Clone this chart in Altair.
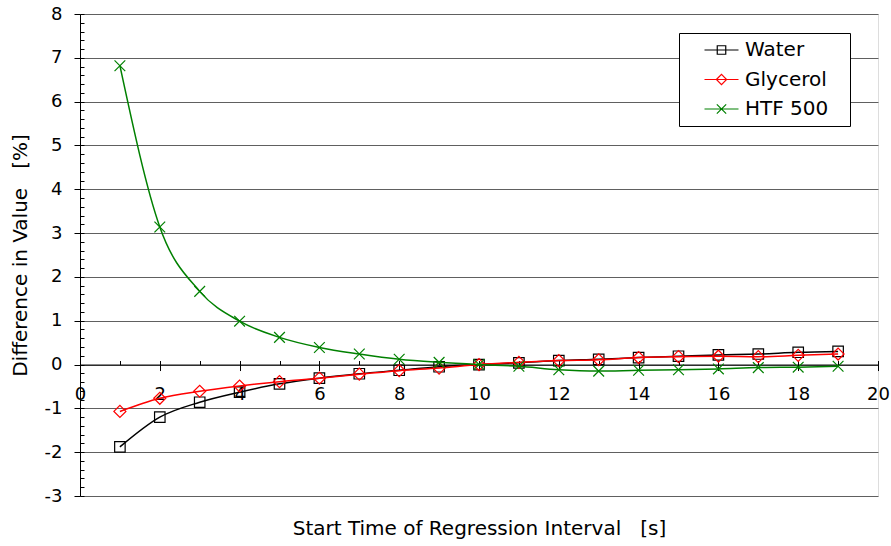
import altair as alt
import pandas as pd

# Start time of the regression interval [s]
start_time = list(range(1, 20))

# Difference in value [%] for each fluid
water = [-1.88, -1.20, -0.86, -0.63, -0.44, -0.31, -0.21, -0.13, -0.05, 0.0,
         0.04, 0.09, 0.12, 0.16, 0.19, 0.22, 0.24, 0.28, 0.30]
glycerol = [-1.07, -0.77, -0.61, -0.49, -0.39, -0.31, -0.22, -0.14, -0.08, 0.0,
            0.05, 0.09, 0.11, 0.16, 0.18, 0.19, 0.18, 0.21, 0.24]
htf_500 = [6.82, 3.14, 1.67, 0.99, 0.62, 0.39, 0.24, 0.12, 0.05, 0.0,
           -0.04, -0.12, -0.15, -0.13, -0.12, -0.10, -0.07, -0.06, -0.04]

series_names = ["Water", "Glycerol", "HTF 500"]
series_colors = ["#000000", "#FF0000", "#008000"]
x_ticks = list(range(0, 21, 2))
y_ticks = list(range(-3, 9))

rows = []
for name, values in zip(series_names, [water, glycerol, htf_500]):
    for t, v in zip(start_time, values):
        rows.append({"t": t, "diff": v, "series": name})
df = pd.DataFrame(rows)

W, H = 798, 482
Y_MIN, Y_MAX = -3, 8
zero_px = H * Y_MAX / (Y_MAX - Y_MIN)  # pixel row of the zero line
FONT = "DejaVu Sans"
NBSP = "\u00a0"
BLANK = "\u2800"  # blank glyph that keeps the legend box wide on the right
plain_label = "toString(datum.value)"  # hyphen-minus for negative numbers

x_scale = alt.Scale(domain=[0, 20], nice=False, zero=False)
y_scale = alt.Scale(domain=[Y_MIN, Y_MAX], nice=False)
color_scale = alt.Scale(domain=series_names, range=series_colors)

# main axes: x axis sits on the zero line, y axis on the left with gridlines
x_main = alt.X(
    "t:Q", scale=x_scale,
    axis=alt.Axis(
        orient="bottom", offset=-(H - zero_px), values=x_ticks,
        tickSize=6, tickColor="black", domainColor="black", domainWidth=1,
        labelFont=FONT, labelFontSize=18, labelColor="black", labelPadding=15,
        labelFlush=False, labelOverlap=False, labelExpr=plain_label, grid=False,
        title="Start Time of Regression Interval" + NBSP * 3 + "[s]",
        titleFont=FONT, titleFontSize=20, titleFontWeight="normal", titleColor="black",
        titleY=163.5, titleBaseline="middle",
    ),
)
y_main = alt.Y(
    "diff:Q", scale=y_scale,
    axis=alt.Axis(
        orient="left", values=y_ticks, tickSize=6, tickColor="black",
        domainColor="black", labelFont=FONT, labelFontSize=18, labelColor="black",
        labelPadding=12, labelFlush=False, labelOverlap=False, labelExpr=plain_label,
        grid=True, gridColor="#606060", gridWidth=1,
        title="Difference in Value" + NBSP * 3 + "[%]",
        titleFont=FONT, titleFontSize=20, titleFontWeight="normal", titleColor="black",
        titleX=-60, titleY=H / 2, titleAngle=270, titleBaseline="middle", titleAlign="center",
    ),
)

# secondary axes: minor ticks above the zero line and inside the left edge
x_minor = alt.X(
    "t:Q", scale=x_scale,
    axis=alt.Axis(
        orient="top", offset=-zero_px, values=list(range(0, 21)), tickSize=4,
        tickColor="black", domain=False, labels=False, grid=False, title=None,
    ),
)
y_minor = alt.Y(
    "diff:Q", scale=y_scale,
    axis=alt.Axis(
        orient="right", offset=-W, values=[round(Y_MIN + 0.2 * i, 1) for i in range(56)],
        tickSize=4, tickColor="black", domain=False, labels=False, grid=False, title=None,
    ),
)
x_plain = alt.X("t:Q", scale=x_scale, axis=None)
y_plain = alt.Y("diff:Q", scale=y_scale, axis=None)

base = alt.Chart(df)

marker_shapes = {
    "Water": ("square", 110),
    "Glycerol": ("diamond", 144),
    "HTF 500": ("M-1,-1L1,1M-1,1L1,-1", 115),
}

layers = []
for i, (name, col) in enumerate(zip(series_names, series_colors)):
    subset = base.transform_filter(alt.datum.series == name)
    line = subset.mark_line(interpolate="monotone", strokeWidth=1.5, color=col).encode(
        x=x_main if i == 0 else x_plain,
        y=y_main if i == 0 else y_plain,
        order=alt.Order("t:Q"),
    )
    shape, size = marker_shapes[name]
    pts = subset.mark_point(
        shape=shape, size=size, filled=False, strokeWidth=1.2, opacity=1, color=col,
    ).encode(
        x=x_minor if i == 0 else x_plain,
        y=y_minor if i == 0 else y_plain,
    )
    layers += [line, pts]

# legend symbols: a short line with the series marker on it
legend_paths = [
    "M1,0H5M2.5,-0.5H3.5V0.5H2.5Z",
    "M1,0H5M2.4,0L3,-0.6L3.6,0L3,0.6Z",
    "M1,0H5M2.45,-0.55L3.55,0.55M2.45,0.55L3.55,-0.55",
]
legend_layer = base.transform_filter("false").mark_point(filled=False, opacity=1).encode(
    x=x_plain, y=y_plain,
    color=alt.Color("series:N", scale=color_scale, title=None,
                    legend=alt.Legend(
                        orient="none", legendX=599, legendY=19,
                        strokeColor="black", fillColor="white", padding=7,
                        symbolSize=289, symbolStrokeWidth=1.2, symbolOpacity=1,
                        labelOffset=39,
                        labelFont=FONT, labelFontSize=20, labelColor="black",
                        rowPadding=9.5, labelBaseline="middle",
                        labelExpr="datum.label + '" + BLANK + "'",
                    )),
    shape=alt.Shape("series:N", title=None,
                    scale=alt.Scale(domain=series_names, range=legend_paths)),
)

chart = alt.layer(*layers, legend_layer).resolve_axis(
    x="independent", y="independent"
).properties(
    width=W, height=H,
    autosize=alt.AutoSizeParams(type="none"),
    padding={"left": 80, "top": 14, "right": 13, "bottom": 50},
).configure_view(
    stroke="black", strokeWidth=1,
).configure(
    background="white",
)

chart.save("out.html", embed_options={"renderer": "svg", "actions": False})
